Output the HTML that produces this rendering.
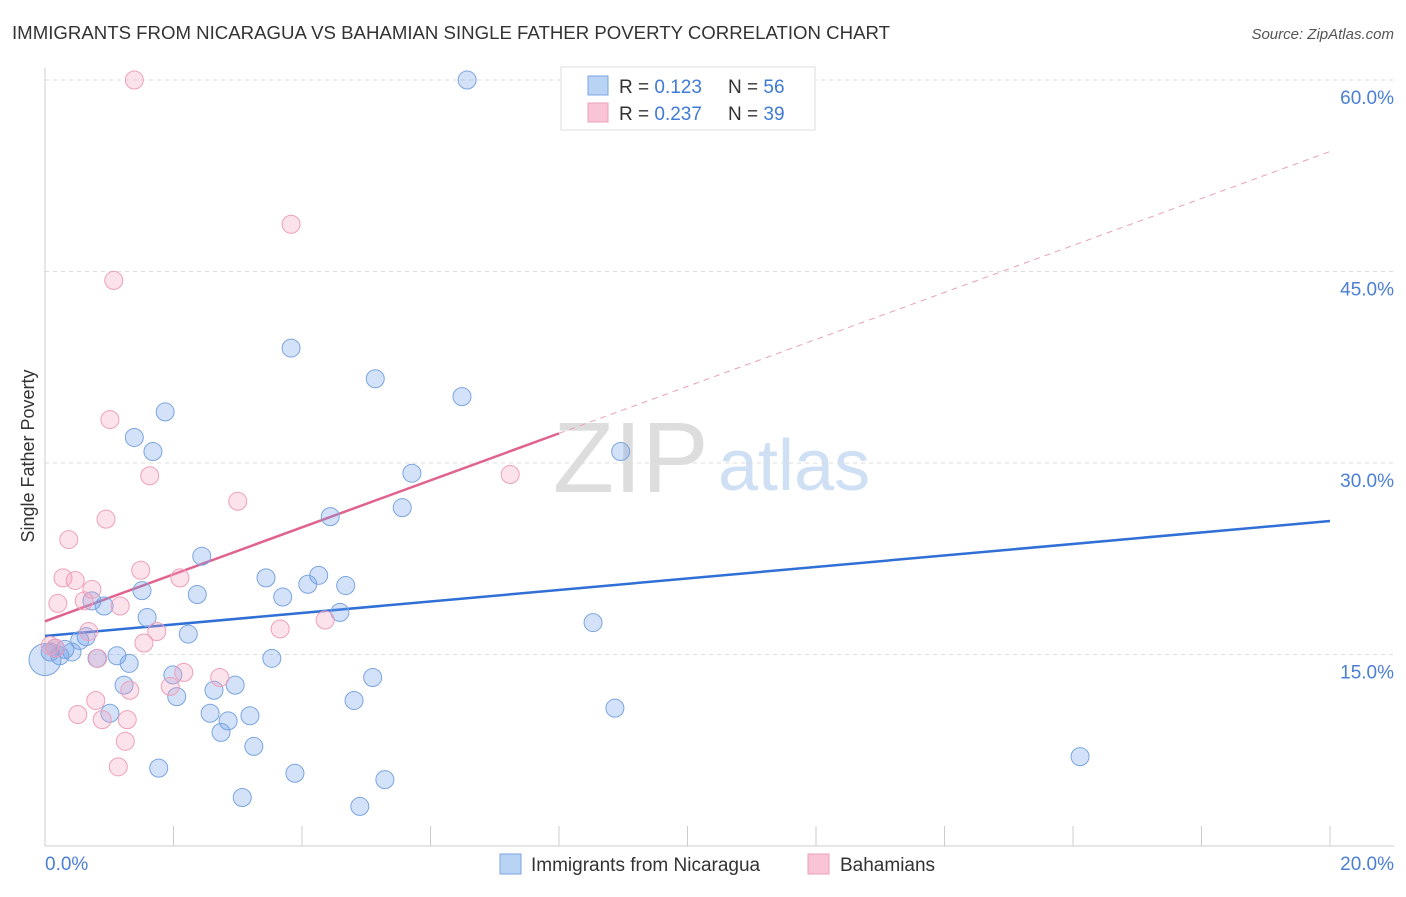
<!DOCTYPE html>
<html><head><meta charset="utf-8"><style>
body{margin:0;background:#fff;font-family:"Liberation Sans",sans-serif;}
svg text{font-family:"Liberation Sans",sans-serif;}
</style></head><body>
<svg id="chart" width="1406" height="892" viewBox="0 0 1406 892" xmlns="http://www.w3.org/2000/svg">
<text x="12" y="39" font-size="18" fill="#333" textLength="878" lengthAdjust="spacingAndGlyphs">IMMIGRANTS FROM NICARAGUA VS BAHAMIAN SINGLE FATHER POVERTY CORRELATION CHART</text>
<text x="1394" y="39" font-size="15" fill="#555" text-anchor="end" font-style="italic">Source: ZipAtlas.com</text>
<text transform="translate(34,456) rotate(-90)" font-size="18" fill="#333" text-anchor="middle">Single Father Poverty</text>
<g><text x="553" y="492" font-size="100" fill="#ddd" font-family="Liberation Serif,serif">ZIP</text><text x="718" y="490" font-size="72" fill="#cfe0f5">atlas</text></g>
<g id="grid"></g><g id="ticks"></g><g id="lines"></g><g id="pts"></g>
<g>
<rect x="561" y="67" width="254" height="63" fill="#fff" stroke="#ddd"/>
<rect x="588" y="76" width="20" height="19" fill="#b9d3f5" stroke="#7aa5e0"/>
<rect x="588" y="103" width="20" height="19" fill="#f9c5d6" stroke="#eea0bb"/>
<text x="619" y="93" font-size="19" fill="#333">R = <tspan fill="#3f7ad6">0.123</tspan><tspan x="728">N = </tspan><tspan fill="#3f7ad6">56</tspan></text>
<text x="619" y="120" font-size="19" fill="#333">R = <tspan fill="#3f7ad6">0.237</tspan><tspan x="728">N = </tspan><tspan fill="#3f7ad6">39</tspan></text>
</g>
<g>
<rect x="500" y="854" width="21" height="20" fill="#b9d3f5" stroke="#7aa5e0"/>
<text x="531" y="871" font-size="19" fill="#333">Immigrants from Nicaragua</text>
<rect x="808" y="854" width="21" height="20" fill="#f9c5d6" stroke="#eea0bb"/>
<text x="840" y="871" font-size="19" fill="#333">Bahamians</text>
</g>
<text x="45" y="870" font-size="19" fill="#4a7fd4">0.0%</text>
<text x="1394" y="870" font-size="19" fill="#4a7fd4" text-anchor="end">20.0%</text>
</svg>
<script>
const yTicks=[15,30,45,60];
const yTickLabels=["15.0%","30.0%","45.0%","60.0%"];
const blueX=[6.57,3.83,5.14,6.49,1.87,1.39,1.68,8.96,5.71,5.56,4.44,2.44,3.44,4.26,4.68,4.09,1.51,2.37,3.70,0.73,0.92,4.59,1.59,8.53,2.23,0.64,0.54,0.16,0.31,0.42,0.08,0.23,0.81,1.12,1.31,3.53,1.99,5.10,1.23,2.96,2.63,2.05,4.81,1.01,2.57,2.85,3.19,8.87,2.74,3.25,16.11,1.77,3.89,5.29,3.07,4.90,0];
const blueY=[60.0,39.0,36.6,35.2,34.0,32.0,30.9,30.9,29.2,26.5,25.8,22.7,21.0,21.2,20.4,20.5,20.0,19.7,19.5,19.2,18.8,18.3,17.9,17.5,16.6,16.4,16.1,15.5,15.4,15.2,15.2,14.9,14.7,14.9,14.3,14.7,13.4,13.2,12.6,12.6,12.2,11.7,11.4,10.4,10.4,9.8,10.2,10.8,8.9,7.8,7.0,6.1,5.7,5.2,3.8,3.1,14.6];
const pinkX=[1.39,3.83,1.07,1.01,1.63,3.00,7.24,0.95,0.37,1.49,2.10,0.28,0.47,0.73,0.20,0.61,1.17,1.74,3.66,4.36,0.68,1.54,0.08,0.16,0.82,2.16,2.72,1.95,1.32,0.79,0.51,0.89,1.28,1.25,1.14];
const pinkY=[60.0,48.7,44.3,33.4,29.0,27.0,29.1,25.6,24.0,21.6,21.0,21.0,20.8,20.1,19.0,19.2,18.8,16.8,17.0,17.7,16.8,15.9,15.7,15.5,14.7,13.6,13.2,12.5,12.2,11.4,10.3,9.9,9.9,8.2,6.2];
const blueTrend=[16.45,25.46];
const pinkTrend=[17.6,54.4];
const pinkSolidEnd=8.0;
const NS="http://www.w3.org/2000/svg";
const X=v=>45+v/20*1285, Y=v=>846-v*12.767;
function mk(t,a,p){const e=document.createElementNS(NS,t);for(const k in a)e.setAttribute(k,a[k]);document.getElementById(p).appendChild(e);return e;}
yTicks.forEach((t,i)=>{
 let g=mk('line',{x1:45,x2:1394,y1:Y(t),y2:Y(t),stroke:'#ddd','stroke-dasharray':'4,4'},'grid');
 
 
 let tx=mk('text',{x:1394,y:Y(t)+24,'font-size':19,fill:'#4a7fd4','text-anchor':'end'},'ticks');tx.textContent=yTickLabels[i];
 
 
});
let ax=mk('line',{x1:45,x2:45,y1:68,y2:846,stroke:'#ccc'},'grid');


let bx=mk('line',{x1:45,x2:1394,y1:846,y2:846,stroke:'#ccc'},'grid');


for(let i=0;i<=10;i++){let t=mk('line',{x1:X(i*2),x2:X(i*2),y1:826,y2:846,stroke:'#ccc'},'ticks');
 
 }
function tv(tr,x){return tr[0]+(tr[1]-tr[0])*x/20;}
let l1=mk('line',{x1:X(0),y1:Y(blueTrend[0]),x2:X(20),y2:Y(blueTrend[1]),stroke:'#2f6fd6','stroke-width':2.5},'lines');


let l2=mk('line',{x1:X(0),y1:Y(pinkTrend[0]),x2:X(pinkSolidEnd),y2:Y(tv(pinkTrend,pinkSolidEnd)),stroke:'#e0628f','stroke-width':2.5},'lines');


let l3=mk('line',{x1:X(pinkSolidEnd),y1:Y(tv(pinkTrend,pinkSolidEnd)),x2:X(20),y2:Y(pinkTrend[1]),stroke:'#eaa0b8','stroke-width':1,'stroke-dasharray':'6,5'},'lines');


blueX.forEach((x,i)=>{let c=mk('circle',{cx:X(x),cy:Y(blueY[i]),r:i==blueX.length-1?16:9,fill:'rgba(110,160,235,0.3)',stroke:'#7aa5e0','stroke-width':1},'pts');
 
 });
pinkX.forEach((x,i)=>{let c=mk('circle',{cx:X(x),cy:Y(pinkY[i]),r:9,fill:'rgba(245,160,190,0.3)',stroke:'#eea0bb','stroke-width':1},'pts');
 
 });
</script>
</body></html>
